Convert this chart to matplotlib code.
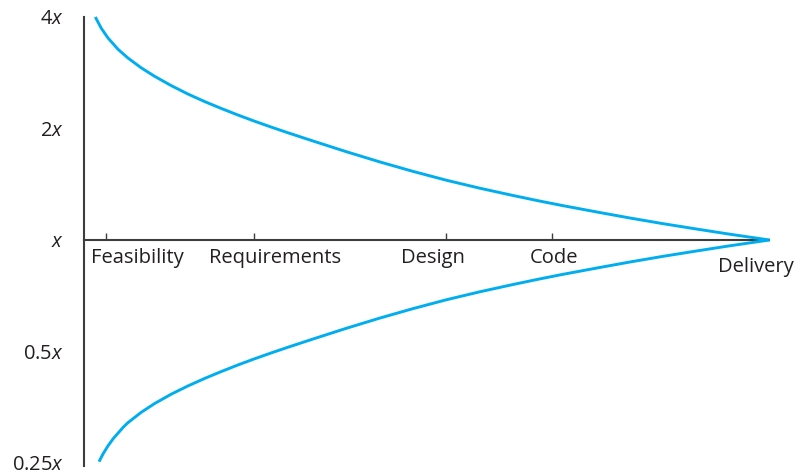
import matplotlib
matplotlib.use("Agg")
import matplotlib.pyplot as plt
from matplotlib.ticker import NullLocator, FixedLocator

plt.rcParams['font.family'] = ['Open Sans', 'DejaVu Sans']
plt.rcParams['mathtext.fontset'] = 'custom'
plt.rcParams['mathtext.rm'] = 'Open Sans'
plt.rcParams['mathtext.it'] = 'Open Sans:italic'

# Phases along the project timeline (arbitrary units, Delivery = 100)
phases = ["Feasibility", "Requirements", "Design", "Code"]
phase_tick_pos = [3.21, 24.78, 52.87, 68.27]
phase_label_pos = [7.75, 27.82, 50.92, 68.59]
delivery_label = "Delivery"
delivery_pos = 100
delivery_label_pos = 98.0

# Estimate multiplier range (upper and lower bounds of the cone of uncertainty)
upper_x = [1.65, 2.52, 3.50, 4.96, 6.41, 8.35, 10.31, 12.73, 15.16, 17.59, 20.01,
           22.45, 24.88, 27.30, 29.74, 33.43, 38.29, 43.15, 48.00, 52.87, 57.73,
           62.58, 66.47, 69.87, 74.74, 79.59, 84.45, 89.31, 94.17, 100.0]
upper_y = [4.0, 3.729, 3.511, 3.273, 3.100, 2.916, 2.766, 2.611, 2.478, 2.365, 2.266,
           2.175, 2.093, 2.018, 1.948, 1.850, 1.731, 1.625, 1.532, 1.450, 1.380,
           1.319, 1.274, 1.238, 1.191, 1.147, 1.107, 1.071, 1.037, 1.0]
lower_x = [2.19, 2.77, 3.50, 4.27, 5.73, 6.41, 8.35, 10.31, 12.73, 15.16, 17.59,
           20.01, 22.45, 24.88, 27.30, 29.74, 33.43, 38.29, 43.15, 48.00, 52.87,
           57.73, 62.58, 66.47, 69.87, 74.74, 79.59, 84.45, 89.31, 94.17, 100.0]
lower_y = [0.252, 0.2644, 0.2781, 0.2910, 0.3124, 0.3212, 0.3426, 0.3619, 0.3835,
           0.4036, 0.4228, 0.4413, 0.4598, 0.4778, 0.4955, 0.5133, 0.5405, 0.5777,
           0.6154, 0.6527, 0.6897, 0.7246, 0.7582, 0.7849, 0.8078, 0.8396, 0.8718,
           0.9033, 0.9337, 0.9643, 1.0]

ytick_vals = [0.25, 0.5, 1, 2, 4]
ytick_labels = [r'0.25$\mathit{x}$', r'0.5$\mathit{x}$', r'$\mathit{x}$',
                r'2$\mathit{x}$', r'4$\mathit{x}$']

line_color = '#00AEEF'
axis_color = '#3d3d3d'
text_color = '#231f20'
fs = 14.5
label_pad = 6

fig = plt.figure(figsize=(8, 4.76), dpi=100)
ax = fig.add_axes([84/800, 10/476, (790-84)/800, 449/476])
ax.set_yscale('log', base=2)
ax.set_ylim(0.25 * 2 ** (-3/111.5), 4.0)
ax.set_xlim(0, 103)

for xs, ys in [(upper_x, upper_y), (lower_x, lower_y)]:
    ax.plot(xs, ys, color=line_color, lw=2.1, clip_on=False,
            solid_capstyle='butt', solid_joinstyle='round', zorder=3)

for s in ['top', 'right']:
    ax.spines[s].set_visible(False)
ax.spines['left'].set_color(axis_color)
ax.spines['left'].set_linewidth(1.5)
ax.spines['bottom'].set_position(('data', 1))
ax.spines['bottom'].set_bounds(0, delivery_pos)
ax.spines['bottom'].set_color(axis_color)
ax.spines['bottom'].set_linewidth(1.5)
ax.spines['bottom'].set_zorder(1)

# labels on major ticks (no marks), tick marks on minor ticks
ax.xaxis.set_major_locator(FixedLocator(phase_label_pos))
ax.set_xticklabels(phases, fontsize=fs, color=text_color)
ax.tick_params(axis='x', which='major', length=0, pad=label_pad)
ax.xaxis.set_minor_locator(FixedLocator(phase_tick_pos))
ax.tick_params(axis='x', which='minor', direction='in', length=5, width=1.0,
               color=axis_color)

ax.set_yticks(ytick_vals)
ax.set_yticklabels(ytick_labels, fontsize=fs, color=text_color)
ax.yaxis.set_minor_locator(NullLocator())
ax.tick_params(axis='y', which='both', length=0, pad=14.5)

ax.annotate(delivery_label, xy=(delivery_label_pos, 1), xytext=(0, -(label_pad + 6)),
            textcoords='offset points', ha='center', va='top',
            fontsize=fs, color=text_color, annotation_clip=False)

fig.savefig('out.png', dpi=100)
